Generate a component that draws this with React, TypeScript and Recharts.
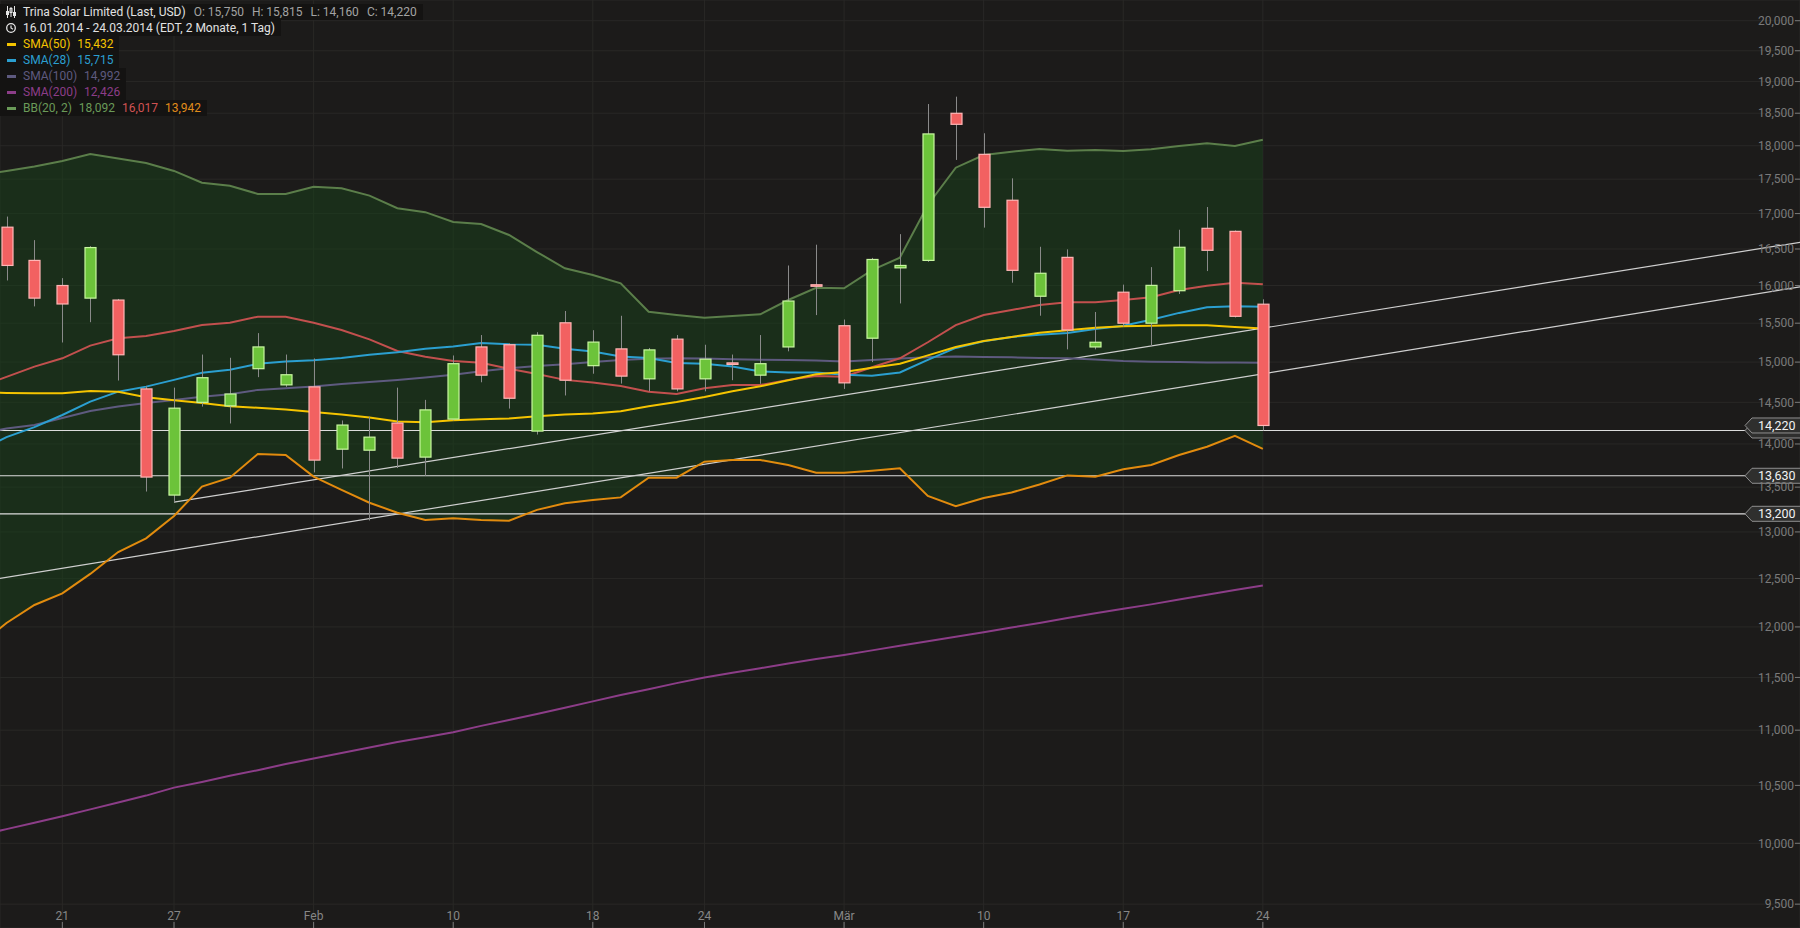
import React from 'react';
import { ComposedChart, XAxis, YAxis, CartesianGrid, Line, Area, Bar, ReferenceLine } from 'recharts';

// trading days; 15.01 is only there so the indicator lines run in from the left edge
const days = [
  '15.01', '16.01', '17.01', '21.01', '22.01', '23.01', '24.01', '27.01', '28.01', '29.01', '30.01', '31.01',
  '03.02', '04.02', '05.02', '06.02', '07.02', '10.02', '11.02', '12.02', '13.02', '14.02',
  '18.02', '19.02', '20.02', '21.02', '24.02', '25.02', '26.02', '27.02', '28.02',
  '03.03', '04.03', '05.03', '06.03', '07.03', '10.03', '11.03', '12.03', '13.03', '14.03',
  '17.03', '18.03', '19.03', '20.03', '21.03', '24.03',
];

const opens = [null, 16806, 16342, 16000, 15831, 15805, 14665, 13410, 14500, 14457, 14917, 14715, 14690, 13939, 13927, 14249, 13846, 14297, 15193, 15221, 14153, 15505, 14955, 15168, 14790, 15293, 14790, 14990, 14836, 15193, 16010, 15467, 15305, 16240, 16342, 18499, 17870, 17192, 15856, 16384, 15193, 15910, 15500, 15930, 16790, 16747, 15750];
const highs = [null, 16957, 16624, 16100, 16540, 15820, 14700, 14681, 15096, 15055, 15371, 15096, 15046, 14280, 14325, 14681, 14530, 15084, 15346, 15240, 15383, 15660, 15409, 15597, 15180, 15346, 15221, 15096, 15346, 16272, 16560, 15548, 16377, 16708, 18644, 18760, 18190, 17512, 16531, 16495, 15647, 16012, 16250, 16770, 17094, 16760, 15815];
const lows = [null, 16068, 15721, 15250, 15513, 14769, 13450, 13338, 14448, 14244, 14811, 14690, 13668, 13714, 13126, 13719, 13630, 14280, 14747, 14424, 14112, 14584, 14854, 14731, 14635, 14635, 14635, 14773, 14728, 15137, 15606, 14665, 15000, 15760, 16322, 17786, 16800, 16038, 15598, 15162, 15162, 15455, 15206, 15886, 16196, 15575, 14160];
const closes = [null, 16273, 15831, 15753, 16520, 15093, 13615, 14429, 14804, 14602, 15193, 14841, 13811, 14225, 14081, 13834, 14408, 14980, 14836, 14550, 15343, 14773, 15255, 14824, 15155, 14665, 15037, 14980, 14980, 15792, 16000, 14740, 16355, 16273, 18180, 18328, 17090, 16206, 16166, 15412, 15253, 15500, 16002, 16524, 16482, 15590, 14220];

const sma50 = [14620, 14616, 14612, 14612, 14640, 14631, 14562, 14526, 14493, 14453, 14434, 14412, 14383, 14352, 14316, 14268, 14260, 14284, 14296, 14304, 14332, 14352, 14364, 14392, 14453, 14505, 14566, 14636, 14697, 14772, 14846, 14875, 14930, 14980, 15085, 15191, 15268, 15320, 15377, 15407, 15442, 15459, 15468, 15472, 15472, 15450, 15432];
const sma28 = [13910, 14082, 14200, 14346, 14508, 14631, 14693, 14777, 14865, 14903, 14979, 15008, 15023, 15051, 15094, 15126, 15170, 15200, 15244, 15228, 15222, 15170, 15136, 15072, 15051, 14988, 14979, 14945, 14882, 14870, 14870, 14841, 14829, 14870, 15028, 15180, 15265, 15321, 15351, 15372, 15424, 15467, 15546, 15635, 15709, 15722, 15715];
const sma100 = [14120, 14184, 14226, 14311, 14395, 14448, 14493, 14530, 14567, 14600, 14653, 14672, 14694, 14727, 14752, 14777, 14808, 14840, 14884, 14923, 14952, 14973, 15002, 15028, 15041, 15050, 15047, 15037, 15030, 15028, 15021, 15009, 15028, 15047, 15060, 15070, 15066, 15060, 15053, 15050, 15034, 15015, 15004, 15000, 14996, 14995, 14992];
const sma200 = [10065, 10120, 10175, 10230, 10290, 10350, 10410, 10480, 10530, 10585, 10635, 10690, 10740, 10790, 10840, 10890, 10935, 10980, 11040, 11095, 11150, 11210, 11270, 11330, 11385, 11445, 11500, 11545, 11590, 11635, 11680, 11720, 11765, 11810, 11855, 11900, 11946, 11995, 12040, 12090, 12140, 12185, 12230, 12280, 12330, 12380, 12426];
const bbUpper = [17560, 17622, 17689, 17770, 17876, 17808, 17740, 17622, 17448, 17404, 17284, 17284, 17389, 17367, 17259, 17077, 17020, 16880, 16852, 16696, 16458, 16234, 16142, 16030, 15650, 15608, 15572, 15594, 15616, 15806, 15970, 15962, 16210, 16380, 17124, 17670, 17860, 17910, 17950, 17926, 17936, 17920, 17946, 17996, 18038, 17996, 18092];
const bbMiddle = [14690, 14814, 14943, 15048, 15210, 15304, 15333, 15398, 15476, 15506, 15585, 15585, 15506, 15412, 15290, 15141, 15068, 15014, 14992, 14917, 14851, 14777, 14743, 14701, 14631, 14603, 14673, 14714, 14714, 14777, 14826, 14817, 14936, 15048, 15253, 15476, 15608, 15674, 15740, 15776, 15776, 15806, 15842, 15940, 15998, 16038, 16017];
const bbLower = [11810, 12040, 12224, 12344, 12548, 12782, 12930, 13176, 13506, 13608, 13882, 13870, 13620, 13468, 13324, 13212, 13132, 13150, 13132, 13124, 13244, 13318, 13354, 13384, 13608, 13608, 13792, 13812, 13812, 13754, 13666, 13666, 13688, 13716, 13400, 13284, 13376, 13440, 13530, 13634, 13620, 13704, 13754, 13870, 13968, 14096, 13942];

// trend lines: day index (0 = 16.01) and price
const trendAIdx = [6, 66];
const trendAVal = [13330, 16704];
const trendBIdx = [-1, 66];
const trendBVal = [12464, 16090];

// horizontal levels and the last price
const levels = [14160, 13630, 13200];
const lastPrice = 14220;

const tickDays = ['21.01', '27.01', '03.02', '10.02', '18.02', '24.02', '03.03', '10.03', '17.03', '24.03'];
const tickLabels = ['21', '27', 'Feb', '10', '18', '24', 'Mär', '10', '17', '24'];
const yTicks = [9500, 10000, 10500, 11000, 11500, 12000, 12500, 13000, 13500, 14000, 14500, 15000, 15500, 16000, 16500, 17000, 17500, 18000, 18500, 19000, 19500, 20000];

const data = days.map((d, k) => ({
  i: k - 1,
  date: d,
  open: opens[k],
  high: highs[k],
  low: lows[k],
  close: closes[k],
  sma50: sma50[k],
  sma28: sma28[k],
  sma100: sma100[k],
  sma200: sma200[k],
  bbUpper: bbUpper[k],
  bbMiddle: bbMiddle[k],
  bbLower: bbLower[k],
}));

const trendA = trendAIdx.map((i, k) => ({ i, v: trendAVal[k] }));
const trendB = trendBIdx.map((i, k) => ({ i, v: trendBVal[k] }));
const xTickIdx = tickDays.map((d) => days.indexOf(d) - 1);

const FONT = 'Roboto, "Noto Sans", sans-serif';
const fmt = (v: number) => v.toLocaleString('en-US');

const C = {
  bg: '#1c1b1a',
  grid: '#292826',
  sma50: '#f5c400',
  sma28: '#2b9fd0',
  sma100: '#5e5a7f',
  sma200: '#8c3d88',
  bbUpper: '#5b7e4a',
  bbMiddle: '#c2504e',
  bbLower: '#e28b0e',
};

const Candle = (props: any) => {
  const { x, y, width, height, payload } = props;
  if (!payload || payload.open == null || !isFinite(y) || !isFinite(height)) return null;
  const { open, high, low, close } = payload;
  // log y scale: place open/close inside the high-low range the bar gives us
  const span = Math.log(high) - Math.log(low);
  const py = (v: number) => y + (height * (Math.log(high) - Math.log(v))) / span;
  const cx = Math.round(x + width / 2) + 0.5;
  const up = close >= open;
  const top = py(Math.max(open, close));
  const bot = py(Math.min(open, close));
  return (
    <g>
      <line x1={cx} x2={cx} y1={y} y2={y + height} stroke="#8a8a8a" strokeWidth={1} />
      <rect
        x={cx - 5.5}
        y={top}
        width={11}
        height={Math.max(bot - top, 1.5)}
        fill={up ? '#6cc33a' : '#f26161'}
        stroke={up ? '#c8f7a0' : '#ffb6b6'}
        strokeWidth={1.2}
      />
    </g>
  );
};

const XTick = (props: any) => {
  const { x, y, payload } = props;
  const label = tickLabels[xTickIdx.indexOf(payload.value)];
  return (
    <text x={x} y={y} textAnchor="middle" fill="#878787" fontSize={12} fontFamily={FONT}>
      {label}
    </text>
  );
};

const YTick = (props: any) => {
  const { x, y, payload } = props;
  return (
    <text x={x} y={y} dy="0.355em" textAnchor="end" fill="#7a7a7a" fontSize={12} fontFamily={FONT}>
      {fmt(payload.value)}
    </text>
  );
};

// price tag on the right edge; a tag that sits under another one only shows its outline
const PriceTag = ({ viewBox, value, hidden }: any) => {
  if (!viewBox) return null;
  const right = viewBox.x + viewBox.width;
  const y = viewBox.y;
  const tip = right - 55;
  return (
    <g>
      <polygon
        points={`${tip},${y} ${tip + 7},${y - 7.5} ${right + 2},${y - 7.5} ${right + 2},${y + 7.5} ${tip + 7},${y + 7.5}`}
        fill="#2f2f2e"
        stroke="#8f8f8f"
        strokeWidth={1}
      />
      {!hidden && (
        <text x={tip + 13} y={y} dy="0.355em" fill="#f2f2f2" fontSize={12.5} fontFamily={FONT}>
          {fmt(value)}
        </text>
      )}
    </g>
  );
};

const rowStyle: React.CSSProperties = {
  display: 'flex',
  alignItems: 'center',
  height: 16,
  paddingLeft: 6,
  paddingRight: 6,
  background: '#141312',
  width: 'fit-content',
  whiteSpace: 'pre',
};

const Marker = ({ color }: { color: string }) => (
  <span style={{ display: 'inline-block', width: 9, height: 3, background: color, marginLeft: 1, marginRight: 7 }} />
);

const last = (a: number[]) => a[a.length - 1];

const legendRows = [
  { name: 'SMA(50)', color: C.sma50, values: [{ v: last(sma50), c: C.sma50 }] },
  { name: 'SMA(28)', color: C.sma28, values: [{ v: last(sma28), c: C.sma28 }] },
  { name: 'SMA(100)', color: C.sma100, values: [{ v: last(sma100), c: C.sma100 }] },
  { name: 'SMA(200)', color: C.sma200, values: [{ v: last(sma200), c: C.sma200 }] },
  {
    name: 'BB(20, 2)',
    color: '#6a9a58',
    values: [
      { v: last(bbUpper), c: '#6a9a58' },
      { v: last(bbMiddle), c: '#d05252' },
      { v: last(bbLower), c: '#e08c1a' },
    ],
  },
];

const Header = () => {
  const k = days.length - 1;
  const ohlc = [
    ['O', opens[k]],
    ['H', highs[k]],
    ['L', lows[k]],
    ['C', closes[k]],
  ] as [string, number][];
  return (
    <div style={{ position: 'absolute', top: 4, left: 0, fontFamily: FONT, fontSize: 12, lineHeight: '16px' }}>
      <div style={rowStyle}>
        <svg width={10} height={12} style={{ marginRight: 7 }}>
          <g stroke="#e6e6e6" strokeWidth={1} fill="none">
            <line x1={1.5} y1={0} x2={1.5} y2={12} />
            <rect x={0.5} y={5.5} width={2} height={3} />
            <line x1={5} y1={1} x2={5} y2={11} />
            <rect x={4} y={2.5} width={2} height={4} />
            <line x1={8.5} y1={0} x2={8.5} y2={12} />
            <rect x={7.5} y={6.5} width={2} height={3} />
          </g>
        </svg>
        <span style={{ color: '#e2e2e2' }}>Trina Solar Limited (Last, USD)</span>
        {ohlc.map(([n, v]) => (
          <span key={n} style={{ color: '#a3a3a3', marginLeft: 8 }}>{`${n}: ${fmt(v)}`}</span>
        ))}
      </div>
      <div style={rowStyle}>
        <svg width={10} height={12} style={{ marginRight: 7 }}>
          <circle cx={5} cy={6} r={4.3} stroke="#e6e6e6" strokeWidth={1.3} fill="none" />
          <polyline points="5,3.5 5,6 7,7.2" stroke="#e6e6e6" strokeWidth={1.2} fill="none" />
        </svg>
        <span style={{ color: '#e2e2e2' }}>{`${days[1]}.2014 - ${days[k]}.2014 (EDT, 2 Monate, 1 Tag)`}</span>
      </div>
      {legendRows.map((r) => (
        <div key={r.name} style={rowStyle}>
          <Marker color={r.color} />
          <span style={{ color: r.color }}>{r.name}</span>
          {r.values.map((val, j) => (
            <span key={j} style={{ color: val.c, marginLeft: 7 }}>{fmt(val.v)}</span>
          ))}
        </div>
      ))}
    </div>
  );
};

const App = () => {
  const lineProps = { type: 'linear' as const, dot: false, activeDot: false, isAnimationActive: false, strokeWidth: 2, zIndex: 400 };
  return (
    <div style={{ position: 'relative', width: 1800, height: 928, background: C.bg, overflow: 'hidden' }}>
      <style>{'html,body{margin:0;padding:0;background:#1c1b1a;overflow:hidden}'}</style>
      <ComposedChart width={1800} height={928} data={data} margin={{ top: 0, right: 0, bottom: 0, left: 0 }}>
        <CartesianGrid stroke={C.grid} strokeWidth={1} />
        <XAxis
          dataKey="i"
          type="number"
          domain={[-0.233, 64.24]}
          allowDataOverflow
          ticks={xTickIdx}
          interval={0}
          mirror
          height={20}
          axisLine={false}
          tickLine={{ stroke: '#7a7a7a' }}
          tickSize={6}
          tickMargin={2}
          tick={<XTick />}
        />
        <YAxis
          orientation="right"
          type="number"
          scale="log"
          domain={[9311, 20352]}
          allowDataOverflow
          ticks={yTicks}
          interval={0}
          mirror
          width={60}
          axisLine={false}
          tickLine={{ stroke: '#7a7a7a' }}
          tickSize={5}
          tickMargin={1}
          tick={<YTick />}
        />
        <Area
          dataKey={(d: any) => [d.bbLower, d.bbUpper]}
          type="linear"
          stroke="none"
          fill="#184119"
          fillOpacity={0.5}
          isAnimationActive={false}
          activeDot={false}
          zIndex={100}
        />
        {levels.map((lv) => (
          <ReferenceLine
            key={lv}
            y={lv}
            stroke="#dcdcdc"
            strokeWidth={1.2}
            zIndex={350}
            label={<PriceTag value={lv} hidden={Math.abs(lv - lastPrice) < 100} />}
          />
        ))}
        <ReferenceLine y={lastPrice} stroke="none" zIndex={350} label={<PriceTag value={lastPrice} />} />
        <Line data={trendA} dataKey="v" stroke="#cfcfcf" {...lineProps} strokeWidth={1.2} />
        <Line data={trendB} dataKey="v" stroke="#cfcfcf" {...lineProps} strokeWidth={1.2} />
        <Line dataKey="sma200" stroke={C.sma200} {...lineProps} />
        <Line dataKey="sma100" stroke={C.sma100} {...lineProps} />
        <Line dataKey="bbUpper" stroke={C.bbUpper} {...lineProps} />
        <Line dataKey="bbLower" stroke={C.bbLower} {...lineProps} />
        <Line dataKey="bbMiddle" stroke={C.bbMiddle} {...lineProps} />
        <Line dataKey="sma28" stroke={C.sma28} {...lineProps} />
        <Line dataKey="sma50" stroke={C.sma50} {...lineProps} />
        <Bar
          dataKey={(d: any) => (d.open == null ? null : [d.low, d.high])}
          barSize={12}
          shape={(p: any) => <Candle {...p} />}
          isAnimationActive={false}
          zIndex={450}
        />
      </ComposedChart>
      <Header />
    </div>
  );
};

export default App;
